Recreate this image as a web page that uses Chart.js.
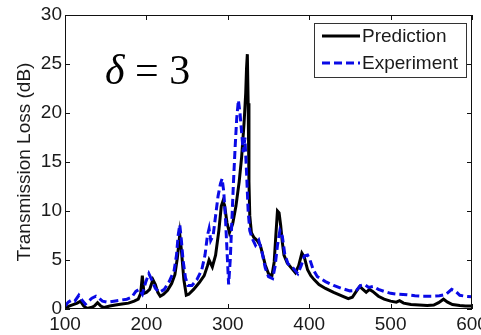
<!DOCTYPE html>
<html>
<head>
<meta charset="utf-8">
<script src="https://cdn.jsdelivr.net/npm/chart.js@4/dist/chart.umd.min.js"></script>
<style>
html,body{margin:0;padding:0;background:#fff;}
#wrap{width:481px;height:335px;position:relative;}
</style>
</head>
<body>
<div id="wrap"><canvas id="c" width="481" height="335"></canvas></div>
<script>
// ---- data ----
const seriesNames = ["Prediction", "Experiment"];
const xTickValues = [100, 200, 300, 400, 500, 600];
const yTickValues = [0, 5, 10, 15, 20, 25, 30];
const annotationText = ["\u03B4", " = 3"];

const predFreq = [100,105,110,115,119,123,127,132,136,140,144,148,155,162,170,178,185,190,193,195,197,200,204,208,211,214,217,221,226,231,235,238,241,243,246,249,252,258,265,271,275,277,281,285,289,292,294,296,299,302,306,310,314,317,320,322,323,324,325,326,327,329,332,336,340,343,346,350,354,357,359,361,363,365,367,369,373,378,383,387,391,394,398,402,406,412,420,430,440,448,453,457,462,466,470,474,478,485,492,500,507,511,516,525,535,545,553,559,565,570,576,585,592,600];
const predLoss = [0.1,0.3,0.45,0.6,0.8,0.3,0.05,0.15,0.3,0.65,0.3,0.15,0.3,0.4,0.5,0.6,0.8,1.0,1.6,3.4,1.6,1.7,2.0,3.0,2.5,1.7,1.3,1.5,1.9,2.6,3.5,5.2,7.6,6.0,3.0,1.4,1.5,2.0,2.7,3.4,4.4,5.0,4.3,5.5,8.0,10.5,11.0,10.6,8.8,7.8,8.7,10.5,13,15.5,19,22,24.5,26,21,13,9.5,7.8,7.3,7.0,6.5,5.5,4.5,3.6,3.3,4.8,7.5,10.0,9.8,8.5,6.8,5.5,4.7,4.2,3.7,4.4,5.7,5.3,4.0,3.4,3.0,2.5,2.1,1.7,1.35,1.05,1.2,1.7,2.3,2.0,1.7,2.0,1.8,1.3,1.0,0.8,0.7,0.85,0.6,0.45,0.4,0.35,0.4,0.65,1.0,0.7,0.45,0.35,0.3,0.3];

const expFreq = [100,104,108,112,117,121,125,129,133,138,142,146,152,160,168,176,182,187,191,195,199,203,207,211,216,222,228,234,237,239,241,243,245,248,251,256,262,268,272,275,277,279,282,285,288,291,293,295,297,299,301,303,305,307,309,311,313,315,317,319,321,323,325,327,330,334,338,342,346,350,355,358,361,364,367,370,374,380,386,390,394,398,401,405,410,420,430,440,450,458,463,468,473,479,485,492,500,510,520,530,540,550,560,568,575,580,585,592,600];
const expLoss = [0.3,0.7,0.9,0.8,1.4,0.9,0.5,0.8,1.1,1.3,1.1,0.8,0.7,0.8,0.9,1.0,1.2,1.8,2.0,1.5,2.7,3.6,2.9,2.1,1.7,2.0,2.8,3.9,5.5,7.5,8.6,7.0,5.0,3.2,2.4,2.4,3.0,4.0,5.5,7.5,8.2,7.0,7.5,9.5,11.5,12.8,13.3,12.0,9.5,6.0,2.5,5.0,9.0,13.0,16.5,19.5,21.3,20.0,18.0,16.0,17.5,14.0,10.0,8.0,7.2,6.5,7.0,5.8,4.2,3.3,3.1,4.3,6.5,8.0,7.4,5.6,4.6,4.2,3.6,4.4,5.4,5.5,5.0,4.0,3.3,2.8,2.4,2.1,1.85,1.9,2.4,2.5,2.2,2.3,2.0,1.8,1.6,1.5,1.45,1.35,1.3,1.3,1.35,1.5,2.0,1.8,1.4,1.3,1.25];

// ---- build points ----
function pts(xs, ys){ return xs.map((x,i)=>({x:x, y:ys[i]})); }

const FONT = "'Liberation Sans', Arial, sans-serif";
const TXT = '#1a1a1a';

const framePlugin = {
  id: 'frame',
  afterDraw(chart){
    const ctx = chart.ctx;
    const a = chart.chartArea;
    const xs = chart.scales.x, ys = chart.scales.y;
    ctx.save();
    ctx.strokeStyle = '#111';
    ctx.lineWidth = 1;
    ctx.strokeRect(a.left+0.5, a.top+0.5, a.right-a.left-1, a.bottom-a.top-1);
    const tl = 5;
    ctx.beginPath();
    xTickValues.forEach(v=>{
      const px = Math.round(xs.getPixelForValue(v))+0.5;
      ctx.moveTo(px, a.bottom); ctx.lineTo(px, a.bottom-tl);
      ctx.moveTo(px, a.top); ctx.lineTo(px, a.top+tl);
    });
    yTickValues.forEach(v=>{
      const py = Math.round(ys.getPixelForValue(v))+0.5;
      ctx.moveTo(a.left, py); ctx.lineTo(a.left+tl, py);
      ctx.moveTo(a.right, py); ctx.lineTo(a.right-tl, py);
    });
    ctx.stroke();

    ctx.fillStyle = '#000';
    ctx.textBaseline = 'alphabetic';
    ctx.textAlign = 'left';
    ctx.font = "italic 42px 'Liberation Serif', 'Times New Roman', serif";
    const tx = 105, ty = 84;
    ctx.fillText(annotationText[0], tx, ty);
    const w0 = ctx.measureText(annotationText[0]).width;
    ctx.font = "42px 'Liberation Serif', 'Times New Roman', serif";
    ctx.fillText(annotationText[1], tx + w0, ty);

    const lx = 314, ly = 23, lw = 152, lh = 54;
    ctx.fillStyle = '#fff';
    ctx.fillRect(lx, ly, lw, lh);
    ctx.strokeStyle = '#333';
    ctx.lineWidth = 1;
    ctx.strokeRect(lx+0.5, ly+0.5, lw, lh);
    const rows = [36, 63];
    chart.data.datasets.forEach((ds, i)=>{
      const y = rows[i];
      ctx.strokeStyle = ds.borderColor;
      ctx.lineWidth = ds.borderWidth;
      ctx.setLineDash(ds.borderDash || []);
      ctx.beginPath();
      ctx.moveTo(322, y); ctx.lineTo(360, y);
      ctx.stroke();
      ctx.setLineDash([]);
      ctx.fillStyle = TXT;
      ctx.font = "19px " + FONT;
      ctx.textBaseline = 'middle';
      ctx.fillText(ds.label, 362, y+1);
    });
    ctx.restore();
  }
};

new Chart(document.getElementById('c'), {
  type: 'line',
  data: {
    datasets: [
      { label: seriesNames[0], data: pts(predFreq, predLoss), borderColor: '#000000', borderWidth: 3, pointRadius: 0, tension: 0, order: 1, fill: false },
      { label: seriesNames[1], data: pts(expFreq, expLoss), borderColor: '#0a0ae6', borderWidth: 3, borderDash: [8,4], pointRadius: 0, tension: 0, order: 0, fill: false }
    ]
  },
  options: {
    responsive: false,
    animation: false,
    devicePixelRatio: 1,
    layout: { padding: { top: 15, right: 9, left: 0, bottom: 0 } },
    plugins: { legend: { display: false }, tooltip: { enabled: false } },
    scales: {
      x: {
        type: 'linear', min: 100, max: 600,
        grid: { display: false, drawTicks: false },
        border: { display: false },
        ticks: { stepSize: 100, color: TXT, font: { family: FONT, size: 19 }, padding: 4, maxRotation: 0, autoSkip: false },
        afterBuildTicks(s){ s.ticks = xTickValues.map(v=>({value:v})); },
        afterFit(s){ s.height = 26; s.paddingLeft = 0; s.paddingRight = 0; }
      },
      y: {
        type: 'linear', min: 0, max: 30,
        grid: { display: false, drawTicks: false },
        border: { display: false },
        ticks: { stepSize: 5, color: TXT, font: { family: FONT, size: 19 }, padding: 3 },
        afterBuildTicks(s){ s.ticks = yTickValues.map(v=>({value:v})); },
        title: { display: true, text: 'Transmission Loss (dB)', color: TXT, font: { family: FONT, size: 19 }, padding: { top: 13, bottom: 0 } },
        afterFit(s){ s.width = 65; s.paddingTop = 0; s.paddingBottom = 0; }
      }
    }
  },
  plugins: [framePlugin]
});
</script>
</body>
</html>
